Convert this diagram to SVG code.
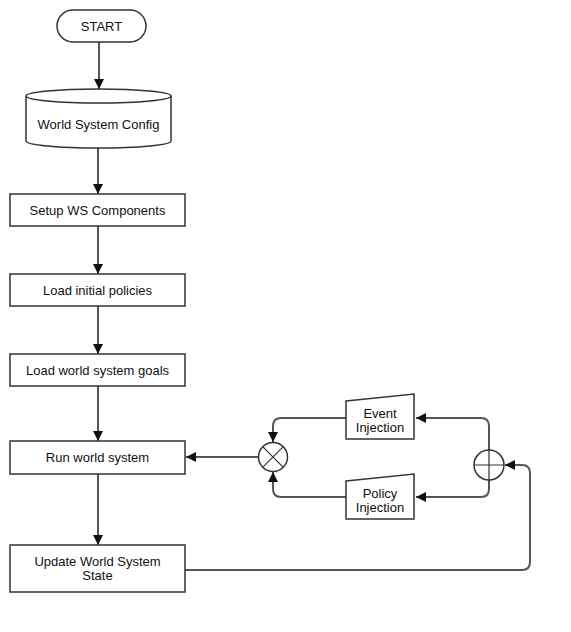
<svg xmlns="http://www.w3.org/2000/svg" width="571" height="632" viewBox="0 0 571 632">
<defs>
<style>
.s{fill:#fff;stroke:#333;stroke-width:1.5}
.t{font-family:"Liberation Sans",Arial,sans-serif;font-size:13px;fill:#111;text-anchor:middle}
.c{fill:none;stroke:#555;stroke-width:2}
</style>
<marker id="a" viewBox="0 0 10 10" refX="10" refY="5" markerWidth="10" markerHeight="10" markerUnits="userSpaceOnUse" orient="auto">
<path d="M0,0 L10,5 L0,10 Z" fill="#111"/>
</marker>
</defs>
<rect width="571" height="632" fill="#fff"/>
<g id="connectors">
<path class="c" d="M99,42 V89" marker-end="url(#a)"/>
<path class="c" d="M98,148 V194" marker-end="url(#a)"/>
<path class="c" d="M98,226 V274" marker-end="url(#a)"/>
<path class="c" d="M98,306 V354" marker-end="url(#a)"/>
<path class="c" d="M98,386 V441" marker-end="url(#a)"/>
<path class="c" d="M98,474 V545" marker-end="url(#a)"/>
<path class="c" d="M258,457 H186" marker-end="url(#a)"/>
<path class="c" d="M185,570 H522 Q530,570 530,562 V473 Q530,465 522,465 H505" marker-end="url(#a)"/>
<path class="c" d="M489,450 V426 Q489,418 481,418 H416" marker-end="url(#a)"/>
<path class="c" d="M489,480 V489 Q489,497 481,497 H416" marker-end="url(#a)"/>
<path class="c" d="M346,418 H281 Q273,418 273,426 V442" marker-end="url(#a)"/>
<path class="c" d="M346,497 H281 Q273,497 273,489 V472" marker-end="url(#a)"/>
</g>
<g id="start">
<rect class="s" x="57" y="10" width="89" height="32" rx="16"/>
<text class="t" x="101.5" y="30.5">START</text>
</g>
<g id="config">
<path class="s" d="M26,96 A72.5,7 0 0 1 171,96 V141 A72.5,7 0 0 1 26,141 Z"/>
<path class="s" d="M26,96 A72.5,7 0 0 0 171,96" fill="none"/>
<text class="t" x="98.5" y="128.5">World System Config</text>
</g>
<g id="setup">
<rect class="s" x="10" y="194" width="175" height="32"/>
<text class="t" x="97.5" y="214.5">Setup WS Components</text>
</g>
<g id="policies">
<rect class="s" x="10" y="274" width="175" height="32"/>
<text class="t" x="97.5" y="294.5">Load initial policies</text>
</g>
<g id="goals">
<rect class="s" x="10" y="354" width="175" height="32"/>
<text class="t" x="97.5" y="374.5">Load world system goals</text>
</g>
<g id="run">
<rect class="s" x="10" y="441" width="175" height="33"/>
<text class="t" x="97.5" y="462">Run world system</text>
</g>
<g id="update">
<rect class="s" x="10" y="545" width="175" height="47"/>
<text class="t" x="97.5" y="565.5">Update World System</text>
<text class="t" x="97.5" y="580">State</text>
</g>
<g id="event">
<path class="s" d="M346,401 L414,394 V439 H346 Z"/>
<text class="t" x="380" y="417.5">Event</text>
<text class="t" x="380" y="432">Injection</text>
</g>
<g id="policy">
<path class="s" d="M346,481 L414,474 V519 H346 Z"/>
<text class="t" x="380" y="497.5">Policy</text>
<text class="t" x="380" y="512">Injection</text>
</g>
<g id="mult">
<circle class="s" cx="273" cy="457" r="14.5"/>
<path d="M262.7,446.7 L283.3,467.3 M283.3,446.7 L262.7,467.3" stroke="#333" stroke-width="1.2"/>
</g>
<g id="sum">
<circle class="s" cx="489" cy="465" r="15"/>
<path d="M474,465 H504 M489,450 V480" stroke="#333" stroke-width="1.2"/>
</g>
</svg>
